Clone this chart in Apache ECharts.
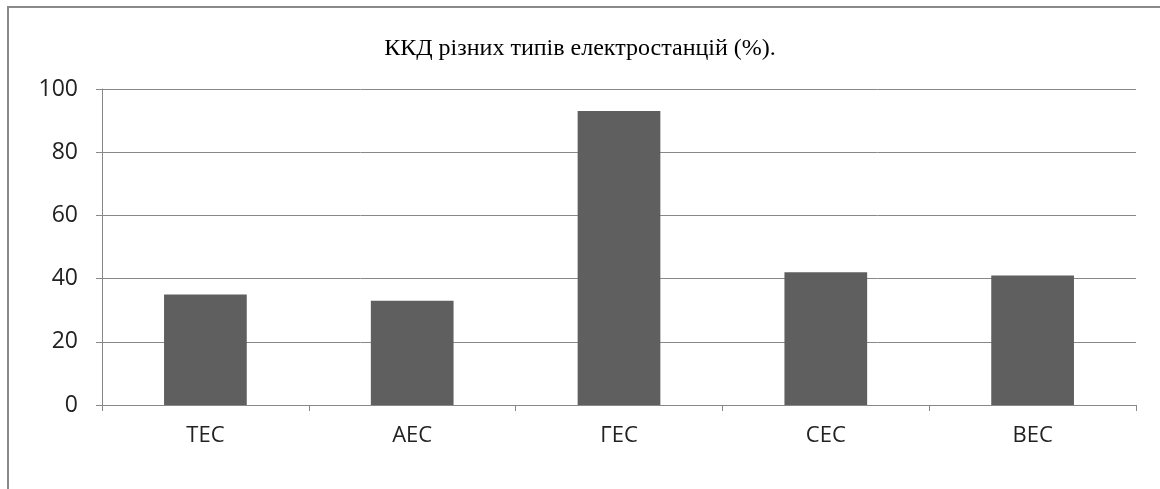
<!DOCTYPE html>
<html>
<head>
<meta charset="utf-8">
<script src="https://cdn.jsdelivr.net/npm/echarts@6/dist/echarts.min.js"></script>
<style>
html,body{margin:0;padding:0;background:#fff;}
#chart{width:1160px;height:489px;}
</style>
</head>
<body>
<div id="chart"></div>
<script>
var titleText = 'ККД різних типів електростанцій (%).';
var categories = ['ТЕС', 'АЕС', 'ГЕС', 'СЕС', 'ВЕС'];
var values = [35, 33, 93, 42, 41];
var yTicks = [0, 20, 40, 60, 80, 100];

var chart = echarts.init(document.getElementById('chart'));
chart.setOption({
  backgroundColor: '#fff',
  animation: false,
  title: {
    text: titleText,
    left: 'center',
    top: 32,
    textStyle: {fontFamily: 'Liberation Serif', fontSize: 24, fontWeight: 'normal', color: '#000'}
  },
  graphic: [
    {type: 'line', shape: {x1: 8, y1: 7, x2: 1160, y2: 7}, style: {stroke: '#8a8a8a', lineWidth: 2}},
    {type: 'line', shape: {x1: 8, y1: 6, x2: 8, y2: 489}, style: {stroke: '#8a8a8a', lineWidth: 2}}
  ],
  grid: {left: 102, right: 24, top: 89, bottom: 84},
  xAxis: {
    type: 'category',
    data: categories,
    axisLine: {lineStyle: {color: '#888', width: 1}},
    axisTick: {show: true, alignWithLabel: false, length: 6, lineStyle: {color: '#888'}},
    axisLabel: {fontFamily: 'Open Sans', fontSize: 22, color: '#222', margin: 20}
  },
  yAxis: {
    type: 'value',
    min: 0, max: 100, interval: 20,
    axisLine: {show: true, lineStyle: {color: '#888', width: 1}},
    axisTick: {show: true, length: 6, lineStyle: {color: '#888'}},
    splitLine: {lineStyle: {color: '#888', width: 1}},
    axisLabel: {fontFamily: 'Open Sans', fontSize: 23, color: '#222', margin: 24,
      formatter: function(v){ return yTicks.indexOf(v) >= 0 ? String(v) : ''; }}
  },
  series: [{
    type: 'bar',
    data: values,
    barWidth: '40%',
    itemStyle: {color: '#5f5f5f'}
  }]
});
</script>
</body>
</html>
